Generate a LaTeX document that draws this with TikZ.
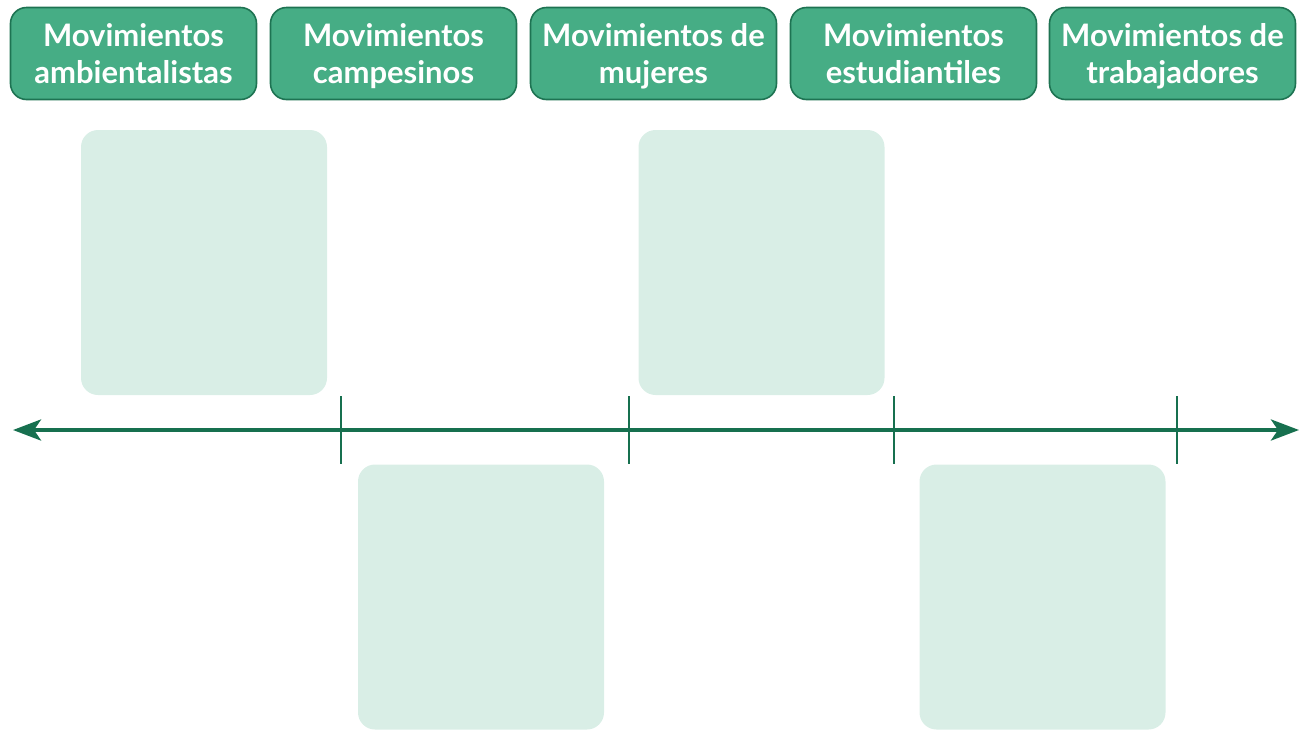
\documentclass[tikz,border=0pt]{standalone}
\usepackage{fontspec}
\setmainfont{Lato}
\usetikzlibrary{arrows.meta}
\definecolor{headfill}{HTML}{46AD85}
\definecolor{headline}{HTML}{1E7352}
\definecolor{cardfill}{HTML}{D9EEE6}
\definecolor{axiscol}{HTML}{17704F}
\newcommand{\hdrtext}[2]{\rule{0pt}{34pt}#1\\\strut #2}
\begin{document}
\begin{tikzpicture}[
  x=1pt,y=-1pt,
  headbox/.style={draw=headline,line width=1.6pt,fill=headfill,rounded corners=16pt,
    minimum width=246pt,minimum height=92pt,align=center,text=white,
    font=\fontsize{31}{37}\selectfont\bfseries,inner sep=0pt},
  cardbox/.style={fill=cardfill,rounded corners=17pt,minimum width=246pt,minimum height=265pt,inner sep=0pt},
  tickline/.style={draw=axiscol,line width=2.4pt},
  axisline/.style={draw=axiscol,line width=4pt,{Stealth[length=28pt,width=21pt,inset=7pt]}-{Stealth[length=28pt,width=21pt,inset=7pt]}}
]
  \useasboundingbox (0,0) rectangle (1302,729);

  % encabezados
  \node[headbox] (amb) at (133.5,53.5) {\hdrtext{Movimientos}{ambientalistas}};
  \node[headbox] (cam) at (393.5,53.5) {\hdrtext{Movimientos}{campesinos}};
  \node[headbox] (muj) at (653.5,53.5) {\hdrtext{Movimientos de}{mujeres}};
  \node[headbox] (est) at (913.5,53.5) {\hdrtext{Movimientos}{estudiantiles}};
  \node[headbox] (tra) at (1172.5,53.5) {\hdrtext{Movimientos de}{trabajadores}};

  % tarjetas
  \node[cardbox] (c1) at (204,262.5) {};
  \node[cardbox] (c2) at (481,597) {};
  \node[cardbox] (c3) at (761.5,262.5) {};
  \node[cardbox] (c4) at (1042.5,597) {};

  % linea de tiempo
  \coordinate (ini) at (13,430);
  \coordinate (fin) at (1299,430);
  \draw[axisline] (ini) -- (fin);
  \foreach \tx/\tn in {341/t1,629/t2,894/t3,1177/t4} {
    \coordinate (\tn a) at (\tx,396);
    \coordinate (\tn b) at (\tx,464);
    \draw[tickline] (\tn a) -- (\tn b);
  }
\end{tikzpicture}
\end{document}
